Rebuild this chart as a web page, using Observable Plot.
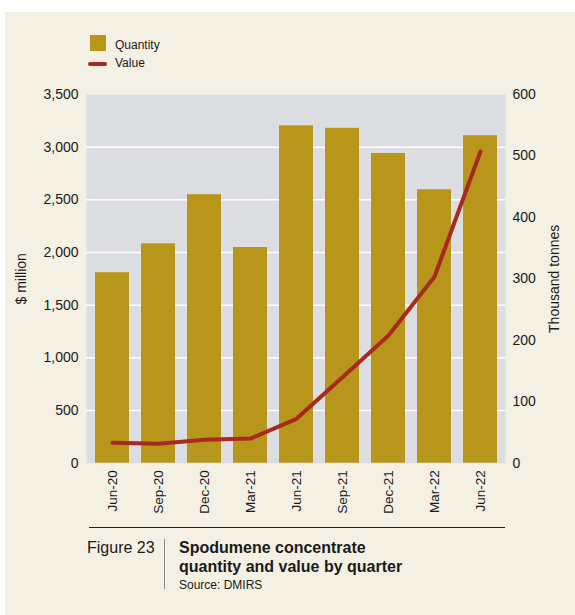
<!DOCTYPE html>
<html><head><meta charset="utf-8">
<script src="https://cdn.jsdelivr.net/npm/d3@7"></script>
<script src="https://cdn.jsdelivr.net/npm/@observablehq/plot@0.6"></script>
<style>
body{margin:0;background:#fff;font-family:"Liberation Sans",Arial,sans-serif;color:#1a1a1a;}
.abs{position:absolute;white-space:nowrap;}
#page{position:absolute;left:5px;top:12px;width:570px;height:603px;background:#f4f0e3;}
</style></head><body>
<div id="page"></div>
<div class="abs" style="left:90px;top:35px;width:16px;height:16px;background:#b8961c"></div>
<div class="abs" style="left:115px;top:38.8px;font-size:12px;line-height:12px">Quantity</div>
<div class="abs" style="left:88px;top:62px;width:19px;height:4px;border-radius:2px;background:#a8291e"></div>
<div class="abs" style="left:115px;top:56.5px;font-size:12px;line-height:12px">Value</div>
<div id="chart" class="abs" style="left:5px;top:84px"></div>
<div class="abs" style="left:89px;top:527px;width:416px;height:0;border-top:1.5px solid #222"></div>
<div class="abs" style="left:87px;top:539.5px;font-size:16px;line-height:16px">Figure 23</div>
<div class="abs" style="left:164px;top:539px;width:0;height:50px;border-left:1px solid #888"></div>
<div class="abs" style="left:179px;top:537.7px;font-size:16px;line-height:19.5px;font-weight:bold">Spodumene concentrate<br>quantity and value by quarter</div>
<div class="abs" style="left:179px;top:578.8px;font-size:12px;line-height:12px">Source: DMIRS</div>
<script>
const quarters = ["Jun-20","Sep-20","Dec-20","Mar-21","Jun-21","Sep-21","Dec-21","Mar-22","Jun-22"];
const quantity = [310, 357, 437, 351, 549, 545, 504, 445, 533]; // thousand tonnes (right axis)
const value = [194, 184, 222, 234, 421, 816, 1212, 1770, 2959]; // $ million (left axis)
const leftTicks = [0, 500, 1000, 1500, 2000, 2500, 3000, 3500];
const rightTicks = [0, 100, 200, 300, 400, 500, 600];
const leftMax = 3500, rightMax = 600;
const ratio = leftMax / rightMax;
const data = quarters.map((q, i) => ({quarter: q, quantity: quantity[i], value: value[i]}));
const chart = Plot.plot({
  width: 570, height: 440,
  marginTop: 10, marginLeft: 81, marginRight: 70, marginBottom: 61.3,
  style: {background: "transparent", fontFamily: "'Liberation Sans', Arial, sans-serif", fontSize: "14px", color: "#1a1a1a"},
  x: {type: "band", domain: quarters, paddingInner: 0.27, paddingOuter: 0.17},
  y: {domain: [0, leftMax]},
  marks: [
    Plot.frame({fill: "#dcdde0", stroke: "none"}),
    Plot.ruleY(leftTicks.slice(1, -1), {stroke: "#fff", strokeWidth: 1.5}),
    Plot.barY(data, {x: "quarter", y: d => d.quantity * ratio, fill: "#b8961c"}),
    Plot.line(data, {x: "quarter", y: "value", stroke: "#a8291e", strokeWidth: 4, strokeLinecap: "round", strokeLinejoin: "round"}),
    Plot.axisY(leftTicks, {anchor: "left", tickSize: 0, tickPadding: 8, tickFormat: d3.format(","), label: "$ million", labelAnchor: "center", labelArrow: "none", labelOffset: 70, fontSize: 14}),
    Plot.axisY(rightTicks.map(v => v * ratio), {anchor: "right", tickSize: 0, tickPadding: 7, tickFormat: v => d3.format(",")(Math.round(v / ratio)), label: "Thousand tonnes", labelAnchor: "center", labelArrow: "none", labelOffset: 53, fontSize: 14}),
    Plot.axisX({tickSize: 0, tickPadding: 7, tickRotate: -90, label: null, fontSize: 13.5})
  ]
});
document.getElementById("chart").appendChild(chart);
</script>
</body></html>
